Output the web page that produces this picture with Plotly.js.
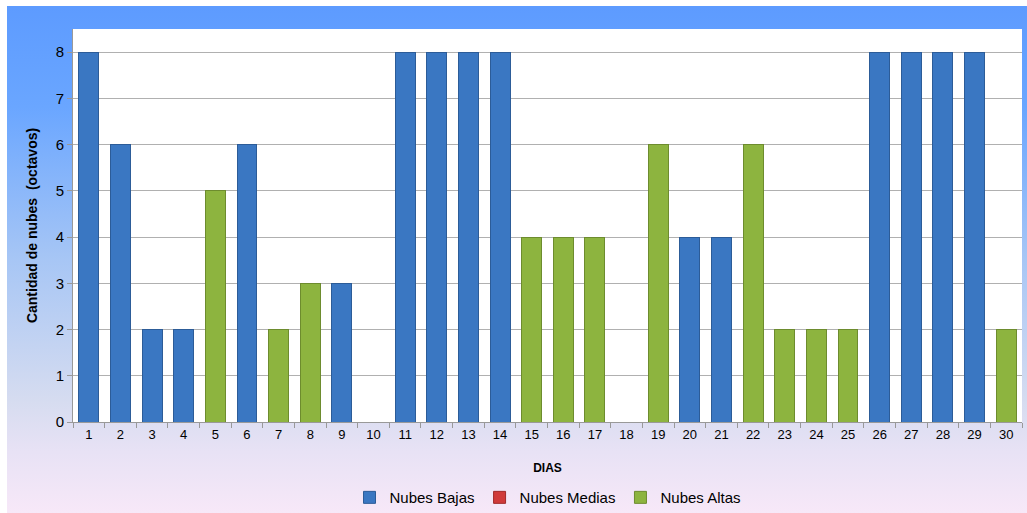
<!DOCTYPE html>
<html>
<head>
<meta charset="utf-8">
<script src="https://cdn.plot.ly/plotly-3.0.1.min.js"></script>
<style>
  html, body { margin: 0; padding: 0; background: #ffffff; }
  #bg { position: absolute; left: 7px; top: 6px; width: 1020px; height: 507px;
        background: linear-gradient(to bottom, #5d9bff 0%, #6aa6ff 20%, #a7c6f5 50%, #d6dcf0 78%, #e8e2f5 88%, #f7e8f8 100%); }
  #chart { position: absolute; left: 0; top: 0; width: 1027px; height: 513px; }
</style>
</head>
<body>
<div id="bg"></div>
<div id="chart"></div>
<script>
const dias = ['1','2','3','4','5','6','7','8','9','10','11','12','13','14','15','16','17','18','19','20','21','22','23','24','25','26','27','28','29','30'];
const nubesBajas  = [8,6,2,2,0,6,0,0,3,0,8,8,8,8,0,0,0,0,0,4,4,0,0,0,0,8,8,8,8,0];
const nubesMedias = [0,0,0,0,0,0,0,0,0,0,0,0,0,0,0,0,0,0,0,0,0,0,0,0,0,0,0,0,0,0];
const nubesAltas  = [0,0,0,0,5,0,2,3,0,0,0,0,0,0,4,4,4,0,6,0,0,6,2,2,2,0,0,0,0,2];
const yTicks = [0,1,2,3,4,5,6,7,8];

// zero-height bars are not drawn (avoids outline slivers on stacked bars)
const noZero = arr => arr.map(v => (v === 0 ? null : v));

const traces = [
  { type: 'bar', name: 'Nubes Bajas', x: dias, y: noZero(nubesBajas),
    marker: { color: '#3a77c2', line: { color: '#2c5c98', width: 1 } } },
  { type: 'bar', name: 'Nubes Medias', x: dias, y: noZero(nubesMedias),
    marker: { color: '#d03a3a', line: { color: '#a02a2a', width: 1 } } },
  { type: 'bar', name: 'Nubes Altas', x: dias, y: noZero(nubesAltas),
    marker: { color: '#8db43f', line: { color: '#6d8c2e', width: 1 } } }
];

const layout = {
  width: 1027, height: 513,
  margin: { l: 73, r: 5, t: 29, b: 91 },
  paper_bgcolor: 'rgba(0,0,0,0)',
  plot_bgcolor: '#ffffff',
  barmode: 'stack',
  bargap: 0.37,
  font: { family: 'Liberation Sans, Arial, sans-serif', color: '#000000' },
  showlegend: true,
  legend: { orientation: 'h', x: 0.5, xanchor: 'center', yref: 'container', y: 0.03, yanchor: 'middle',
            font: { size: 15, color: '#000' }, bgcolor: 'rgba(0,0,0,0)', traceorder: 'normal',
            itemwidth: 30, tracegroupgap: 0 },
  xaxis: {
    type: 'category', tickvals: dias, ticktext: dias, automargin: false,
    tickfont: { size: 13 }, ticks: 'outside', tickson: 'boundaries', ticklen: 5,
    tickcolor: '#999', showline: true, linecolor: '#999', linewidth: 1,
    showgrid: false, zeroline: false,
    title: { text: '<b>DIAS</b>', font: { size: 12 }, standoff: 23 }
  },
  yaxis: {
    range: [0, 8.5], tickvals: yTicks, ticktext: yTicks.map(String), automargin: false,
    tickfont: { size: 15 }, ticks: 'outside', ticklen: 5, tickcolor: '#999',
    showline: true, linecolor: '#999', linewidth: 1,
    showgrid: true, gridcolor: '#b0b0b0', gridwidth: 1, zeroline: false,
    title: { text: '<b>Cantidad de nubes  (octavos)</b>', font: { size: 14 }, standoff: 14 }
  }
};

Plotly.newPlot('chart', traces, layout, { displayModeBar: false, staticPlot: true });
</script>
</body>
</html>
